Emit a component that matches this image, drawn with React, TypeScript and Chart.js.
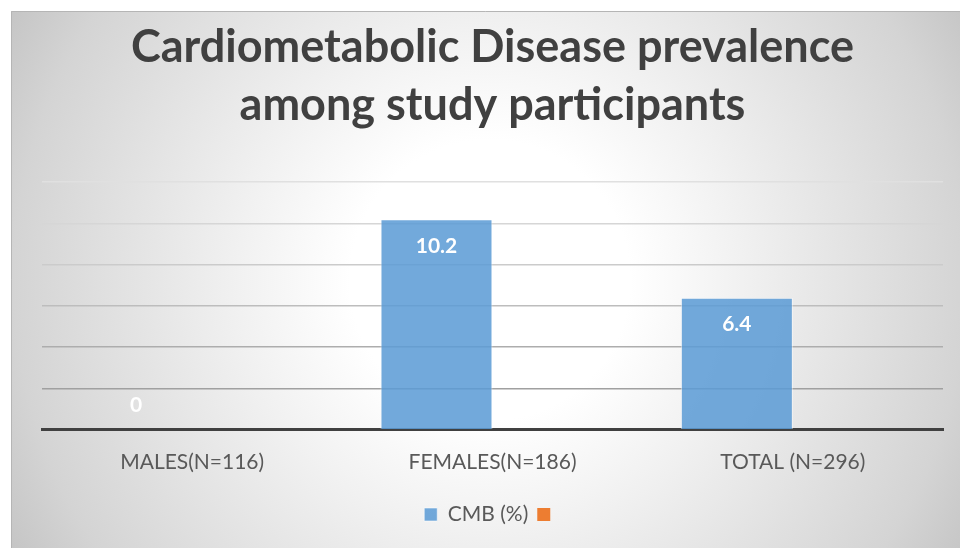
import React, { useEffect, useRef } from "react";
import { Chart, registerables } from "chart.js";

Chart.register(...registerables);

const categories = ["MALES(N=116)", "FEMALES(N=186)", "TOTAL (N=296)"];
const cmbValues = [0, 10.2, 6.4];
const secondValues: (number | null)[] = [null, null, null];
const seriesNames = ["CMB (%)", ""];
const titleLines = ["Cardiometabolic Disease prevalence", "among study participants"];
const yMin = 0;
const yMax = 12;
const yStep = 2;

const gridColors: Record<number, string> = {
  0: "rgba(0,0,0,0)",
  2: "#a0a0a0",
  4: "#adadad",
  6: "#bdbdbd",
  8: "#cbcbcb",
  10: "#d6d6d6",
  12: "#e0e0e0",
};

const bgPlugin = {
  id: "bgPlugin",
  beforeDraw(chart: any) {
    const { ctx, width, height } = chart;
    ctx.save();
    ctx.fillStyle = "#ffffff";
    ctx.fillRect(0, 0, width, height);
    const cx = 490, cy = 280;
    const g = ctx.createRadialGradient(cx, cy, 0, cx, cy, 560);
    g.addColorStop(0, "#ffffff");
    g.addColorStop(0.25, "#ffffff");
    g.addColorStop(0.45, "#f1f1f1");
    g.addColorStop(0.85, "#d4d4d4");
    g.addColorStop(1, "#c3c3c3");
    ctx.fillStyle = g;
    ctx.fillRect(11, 11, width - 11, height - 11);
    ctx.strokeStyle = "#b5b5b5";
    ctx.lineWidth = 1;
    ctx.beginPath();
    ctx.moveTo(11.5, height);
    ctx.lineTo(11.5, 11.5);
    ctx.lineTo(width, 11.5);
    ctx.stroke();
    ctx.restore();
  },
};

const labelPlugin = {
  id: "labelPlugin",
  afterDatasetsDraw(chart: any) {
    const { ctx } = chart;
    const meta = chart.getDatasetMeta(0);
    const data = chart.data.datasets[0].data as number[];
    ctx.save();
    ctx.fillStyle = "#ffffff";
    ctx.font = "bold 21px Lato";
    ctx.textAlign = "center";
    ctx.textBaseline = "middle";
    meta.data.forEach((el: any, i: number) => {
      const v = data[i];
      const y = v > 0 ? el.y + 27 : el.y - 25;
      ctx.fillText(String(v), el.x, y);
    });
    ctx.restore();
  },
};

export default function App() {
  const ref = useRef<HTMLCanvasElement | null>(null);
  useEffect(() => {
    if (!ref.current) return;
    const chart = new Chart(ref.current, {
      type: "bar",
      data: {
        labels: categories,
        datasets: [
          {
            label: seriesNames[0],
            data: cmbValues,
            backgroundColor: "rgba(91,155,213,0.86)",
            borderColor: "rgba(255,255,255,0.55)",
            borderWidth: 1,
            categoryPercentage: 0.746,
            barPercentage: 1,
          },
          {
            label: seriesNames[1],
            data: secondValues,
            backgroundColor: "#ED7D31",
            borderColor: "#ED7D31",
            borderWidth: 0,
            categoryPercentage: 0.746,
            barPercentage: 1,
          },
        ],
      },
      options: {
        responsive: false,
        animation: false,
        layout: { padding: { left: 42, right: 17, top: 0, bottom: 13 } },
        plugins: {
          title: {
            display: true,
            text: titleLines,
            color: "#404040",
            font: { family: "Lato", size: 45, weight: "bold", lineHeight: 1.29 },
            padding: { top: 18, bottom: 48 },
          },
          legend: {
            display: true,
            position: "bottom",
            labels: {
              boxWidth: 13,
              boxHeight: 13,
              color: "#595959",
              font: { family: "Lato", size: 21 },
              padding: 9,
            },
          },
          tooltip: { enabled: false },
        },
        scales: {
          x: {
            grid: { display: false, drawTicks: false },
            border: { display: true, color: "#404040", width: 3 },
            ticks: {
              color: "#595959",
              font: { family: "Lato", size: 21 },
              padding: 20,
              maxRotation: 0,
            },
          },
          y: {
            min: yMin,
            max: yMax,
            ticks: { stepSize: yStep, display: false },
            grid: {
              drawTicks: false,
              lineWidth: 1.5,
              color: (c: any) => gridColors[c.tick?.value] ?? "#cccccc",
            },
            border: { display: false },
          },
        },
      },
      plugins: [bgPlugin, labelPlugin],
    });
    return () => chart.destroy();
  }, []);
  return (
    <div style={{ position: "absolute", left: 0, top: 0, width: 960, height: 548 }}>
      <canvas ref={ref} width={960} height={548} />
    </div>
  );
}
